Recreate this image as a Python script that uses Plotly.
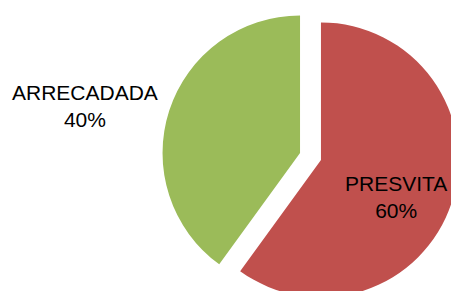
import plotly.graph_objects as go

labels = ["PRESVITA", "ARRECADADA"]
values = [60, 40]
colors = ["#C0504D", "#9BBB59"]
pulls = [0.08, 0.08]

W, H = 451, 300
cx, cy, half = 302.5, 148.5, 148.5
fig = go.Figure(go.Pie(
    labels=labels, values=values, sort=False, direction="clockwise", rotation=0,
    marker=dict(colors=colors, line=dict(width=0)),
    pull=pulls, textinfo="none", hoverinfo="label+percent",
    domain=dict(x=[(cx - half) / W, (cx + half) / W],
                y=[1 - (cy + half) / H, 1 - (cy - half) / H]),
    showlegend=False,
))

total = sum(values)
label_pos = [(388, 189), (77, 98)]
for lab, val, (px, py) in zip(labels, values, label_pos):
    fig.add_annotation(
        text=f"{lab}<br>{round(100 * val / total)}%",
        x=px / W, y=1 - py / H, xref="paper", yref="paper",
        showarrow=False, xanchor="center", yanchor="middle",
        font=dict(family="Liberation Sans", size=21, color="#000000"),
    )

fig.update_layout(
    width=W, height=H, margin=dict(l=0, r=0, t=0, b=0),
    paper_bgcolor="#FFFFFF", plot_bgcolor="#FFFFFF",
)
fig.write_html("out.html")
